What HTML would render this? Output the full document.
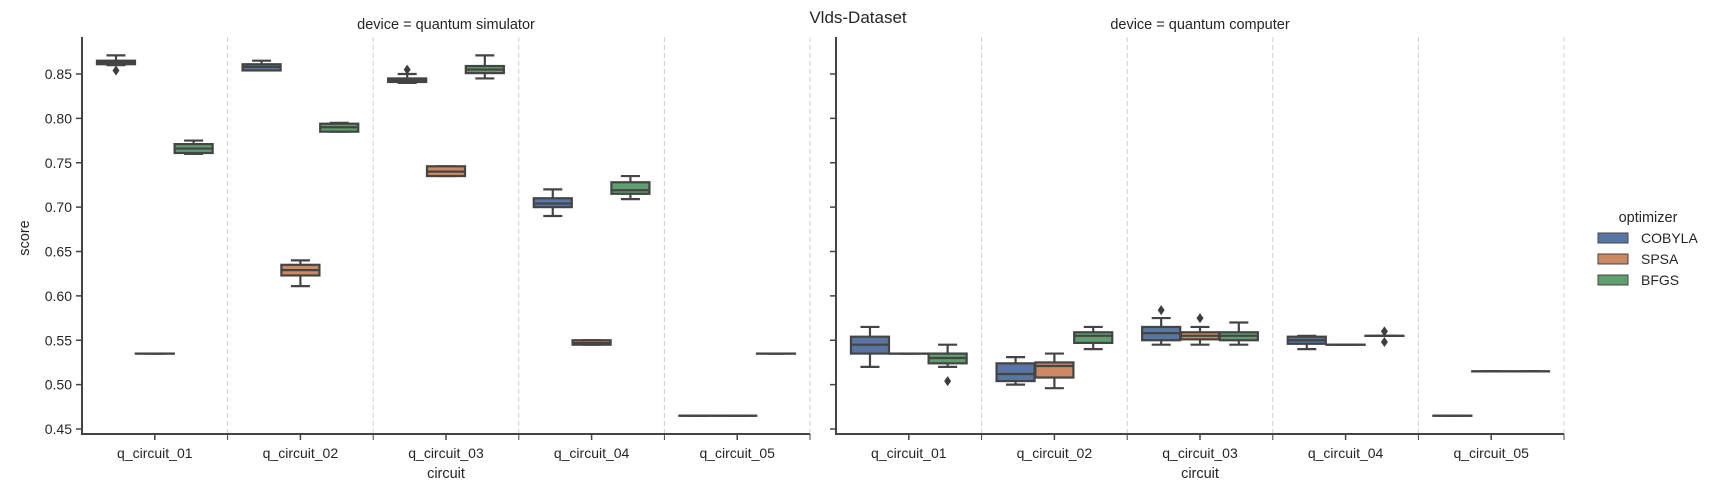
<!DOCTYPE html>
<html><head><meta charset="utf-8"><style>
body{margin:0;background:#fff;}
svg{display:block;font-family:"Liberation Sans",Arial,sans-serif;}
</style></head><body>
<svg id="chart" width="1716" height="500" viewBox="0 0 1716 500"></svg>
<script>
// ---- data ----
const categories = ["q_circuit_01","q_circuit_02","q_circuit_03","q_circuit_04","q_circuit_05"];
const optimizers = ["COBYLA","SPSA","BFGS"];
const panels = ["device = quantum simulator","device = quantum computer"];
const yTicks = [0.45,0.50,0.55,0.60,0.65,0.70,0.75,0.80,0.85];
// each entry: [whislo, q1, median, q3, whishi] per category
const simCOBYLA = [[0.860,0.861,0.863,0.865,0.871],[0.854,0.854,0.858,0.861,0.865],[0.840,0.841,0.843,0.845,0.850],[0.690,0.700,0.704,0.710,0.720],[0.465,0.465,0.465,0.465,0.465]];
const simSPSA   = [[0.535,0.535,0.535,0.535,0.535],[0.611,0.623,0.629,0.635,0.640],[0.735,0.735,0.740,0.746,0.746],[0.545,0.545,0.547,0.550,0.550],[0.465,0.465,0.465,0.465,0.465]];
const simBFGS   = [[0.760,0.761,0.766,0.771,0.775],[0.785,0.785,0.790,0.794,0.795],[0.845,0.851,0.855,0.859,0.871],[0.709,0.715,0.719,0.728,0.735],[0.535,0.535,0.535,0.535,0.535]];
const qcCOBYLA  = [[0.520,0.535,0.545,0.554,0.565],[0.500,0.504,0.512,0.524,0.531],[0.545,0.550,0.558,0.565,0.575],[0.540,0.546,0.550,0.554,0.555],[0.465,0.465,0.465,0.465,0.465]];
const qcSPSA    = [[0.535,0.535,0.535,0.535,0.535],[0.496,0.508,0.521,0.525,0.535],[0.545,0.551,0.555,0.559,0.565],[0.545,0.545,0.545,0.545,0.545],[0.515,0.515,0.515,0.515,0.515]];
const qcBFGS    = [[0.520,0.524,0.530,0.535,0.545],[0.540,0.547,0.555,0.559,0.565],[0.545,0.550,0.555,0.559,0.570],[0.555,0.555,0.555,0.555,0.555],[0.515,0.515,0.515,0.515,0.515]];
// outliers: [panel, category, optimizer, value]
const fliers = [[0,0,0,0.854],[0,2,0,0.855],[1,0,2,0.504],[1,2,0,0.584],[1,2,1,0.575],[1,3,2,0.560],[1,3,2,0.548]];

const panelData = [[simCOBYLA,simSPSA,simBFGS],[qcCOBYLA,qcSPSA,qcBFGS]];
const colors = ["#5875a4","#cc8963","#5f9e6e"];
const NS="http://www.w3.org/2000/svg";
const svg=document.getElementById('chart');
function mk(tag,attrs,parent){const e=document.createElementNS(NS,tag);for(const k in attrs)e.setAttribute(k,attrs[k]);(parent||svg).appendChild(e);return e;}
const panelX=[82,836], PW=728, TOP=37, BOT=434;
function yScale(v){return 74+(0.85-v)/0.05*44.375;}
const catW=PW/categories.length, hueW=catW*0.8/3;
const LC="#444";

const title=mk('text',{x:858,y:23,'text-anchor':'middle','font-size':17,fill:'#262626'});
title.textContent="Vlds-Dataset";



panels.forEach((pt,p)=>{
  const x0=panelX[p];
  const g=mk('g',{});
  
  
  const ft=mk('text',{x:x0+PW/2,y:29,'text-anchor':'middle','font-size':14.5,fill:'#262626'},g);
  ft.textContent=pt;
  
  
  // separators
  for(let k=1;k<=categories.length;k++){
    const x=x0+catW*k;
    const l=mk('line',{x1:x,x2:x,y1:TOP,y2:BOT,stroke:'#d0d0d0','stroke-width':1,'stroke-dasharray':'5,3'},g);
    
    
    mk('line',{x1:x,x2:x,y1:BOT,y2:BOT+6,stroke:LC,'stroke-width':1},g);
  }
  // y axis
  const ya=mk('line',{x1:x0,x2:x0,y1:TOP,y2:BOT+1,stroke:LC,'stroke-width':2},g);
  
  
  yTicks.forEach(t=>{
    const y=yScale(t);
    mk('line',{x1:x0-6,x2:x0,y1:y,y2:y,stroke:LC,'stroke-width':1.5},g);
    if(p===0){
      const tl=mk('text',{x:x0-10,y:y+5,'text-anchor':'end','font-size':14,fill:'#262626'},g);
      tl.textContent=t.toFixed(2);
      
      
    }
  });
  const xa=mk('line',{x1:x0-1,x2:x0+PW,y1:BOT,y2:BOT,stroke:LC,'stroke-width':2},g);
  
  
  categories.forEach((c,ci)=>{
    const cx=x0+catW*(ci+0.5);
    mk('line',{x1:cx,x2:cx,y1:BOT,y2:BOT+6,stroke:LC,'stroke-width':1.5},g);
    const tl=mk('text',{x:cx,y:458,'text-anchor':'middle','font-size':14,fill:'#262626'},g);
    tl.textContent=c;
    
    
    optimizers.forEach((o,oi)=>{
      const s=panelData[p][oi][ci];
      const bx=cx+(oi-1)*hueW, w=hueW*0.98;
      const bg=mk('g',{},g);
      
      
      mk('line',{x1:bx,x2:bx,y1:yScale(s[4]),y2:yScale(s[3]),stroke:LC,'stroke-width':2.2},bg);
      mk('line',{x1:bx,x2:bx,y1:yScale(s[1]),y2:yScale(s[0]),stroke:LC,'stroke-width':2.2},bg);
      mk('line',{x1:bx-w/4,x2:bx+w/4,y1:yScale(s[4]),y2:yScale(s[4]),stroke:LC,'stroke-width':2.2},bg);
      mk('line',{x1:bx-w/4,x2:bx+w/4,y1:yScale(s[0]),y2:yScale(s[0]),stroke:LC,'stroke-width':2.2},bg);
      const yt=yScale(s[3]), yb=yScale(s[1]);
      mk('rect',{x:bx-w/2,y:yt,width:w,height:Math.max(yb-yt,0.1),fill:colors[oi],stroke:LC,'stroke-width':2.2},bg);
      mk('line',{x1:bx-w/2,x2:bx+w/2,y1:yScale(s[2]),y2:yScale(s[2]),stroke:LC,'stroke-width':2.2},bg);
    });
  });
  const xl=mk('text',{x:x0+PW/2,y:478,'text-anchor':'middle','font-size':14.5,fill:'#262626'},g);
  xl.textContent="circuit";
  
  
});
fliers.forEach(f=>{
  const cx=panelX[f[0]]+catW*(f[1]+0.5)+(f[2]-1)*hueW, y=yScale(f[3]);
  const d=mk('path',{d:`M${cx} ${y-5}L${cx+3.5} ${y}L${cx} ${y+5}L${cx-3.5} ${y}Z`,fill:'#3d3d3d'});
  
  
});
const yl=mk('text',{x:0,y:0,'text-anchor':'middle','font-size':14.5,fill:'#262626',transform:'translate(29,238) rotate(-90)'});
yl.textContent="score";


// legend
const lg=mk('g',{});


const lt=mk('text',{x:1648,y:222,'text-anchor':'middle','font-size':14.5,fill:'#262626'},lg);
lt.textContent="optimizer";


optimizers.forEach((o,i)=>{
  const y=233+i*21;
  const e=mk('g',{},lg);
  
  
  mk('rect',{x:1598,y:y,width:30,height:10,fill:colors[i],stroke:LC,'stroke-width':1},e);
  const t=mk('text',{x:1641,y:y+10,'font-size':14,fill:'#262626'},e);
  t.textContent=o;
});
</script>
</body></html>
